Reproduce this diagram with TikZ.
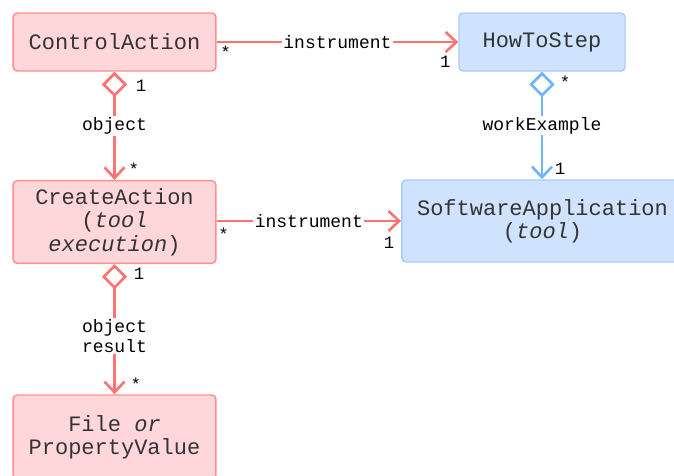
\documentclass[tikz,border=0pt]{standalone}
\usepackage{fontspec}
\setmonofont{Liberation Mono}
\usetikzlibrary{arrows.meta}

\definecolor{redline}{HTML}{FF7373}
\definecolor{redborder}{HTML}{FF8F8F}
\definecolor{redfill}{HTML}{FFD7DA}
\definecolor{blueline}{HTML}{74B4FF}
\definecolor{blueborder}{HTML}{A9CDFA}
\definecolor{bluefill}{HTML}{CFE3FF}
\definecolor{textgray}{HTML}{333333}

\tikzset{
    classbox/.style={draw, rounded corners=3pt, line width=1.1pt, text=textgray,
        font=\ttfamily\fontsize{16.5}{17.5}\selectfont, align=center, inner sep=0pt},
    redbox/.style={classbox, draw=redborder, fill=redfill},
    bluebox/.style={classbox, draw=blueborder, fill=bluefill},
    assoc/.style={line width=2pt, -{Straight Barb[length=8pt,width=15pt]}},
    aggr/.style={line width=2pt, {Diamond[open,length=19pt,width=19pt]}-{Straight Barb[length=8pt,width=15pt]}},
    role/.style={fill=white, text=black, font=\ttfamily\fontsize{13.5}{15}\selectfont,
        inner sep=1pt, align=center},
    mult/.style={text=black, font=\ttfamily\fontsize{13}{14}\selectfont, inner sep=1pt}
}

\begin{document}
\begin{tikzpicture}[x=0.75pt,y=-0.75pt]
    % Cadre de l'image
    \clip (0,0) rectangle (674,475);

    % Classes
    \node[redbox, minimum width=152pt, minimum height=43.5pt] (ctrl) at (114.5,42) {ControlAction};
    \node[bluebox, minimum width=124.5pt, minimum height=43.5pt] (howto) at (542,42) {HowToStep};
    \node[redbox, minimum width=152pt, minimum height=62pt] (create) at (114.5,222)
        {CreateAction\\(\textit{tool}\\\textit{execution})};
    \node[bluebox, minimum width=211pt, minimum height=61.5pt] (soft) at (542.5,221)
        {SoftwareApplication\\(\textit{tool})};
    \node[redbox, minimum width=152pt, minimum height=63pt] (file) at (114.5,437)
        {File \textit{or}\\PropertyValue};

    % Associations instrument
    \draw[redline, assoc] (ctrl) -- node[role] {instrument}
        node[mult, pos=0, xshift=6.75pt, yshift=-7.5pt] {*}
        node[mult, pos=1, xshift=-9.75pt, yshift=-15pt] {1} (howto);
    \draw[redline, assoc] (create.east |- soft.west) -- node[role] {instrument}
        node[mult, pos=0, xshift=5.25pt, yshift=-9.75pt] {*}
        node[mult, pos=1, xshift=-9pt, yshift=-16.5pt] {1} (soft.west);

    % Agrégations
    \draw[redline, aggr] (ctrl.south) -- node[role] {object}
        node[mult, pos=0, xshift=20pt, yshift=-10.5pt] {1}
        node[mult, pos=1, xshift=14.5pt, yshift=8.25pt] {*} (create.north);
    \draw[blueline, aggr] (howto.south) -- node[role] {workExample}
        node[mult, pos=0, xshift=17.25pt, yshift=-7.5pt] {*}
        node[mult, pos=1, xshift=13.5pt, yshift=7.5pt] {1} (howto.south |- soft.north);
    \draw[redline, aggr] (create.south) -- node[role, pos=0.55] {object\\result}
        node[mult, pos=0, xshift=18.5pt, yshift=-7.5pt] {1}
        node[mult, pos=1, xshift=16pt, yshift=7.5pt] {*} (file.north);
\end{tikzpicture}
\end{document}
